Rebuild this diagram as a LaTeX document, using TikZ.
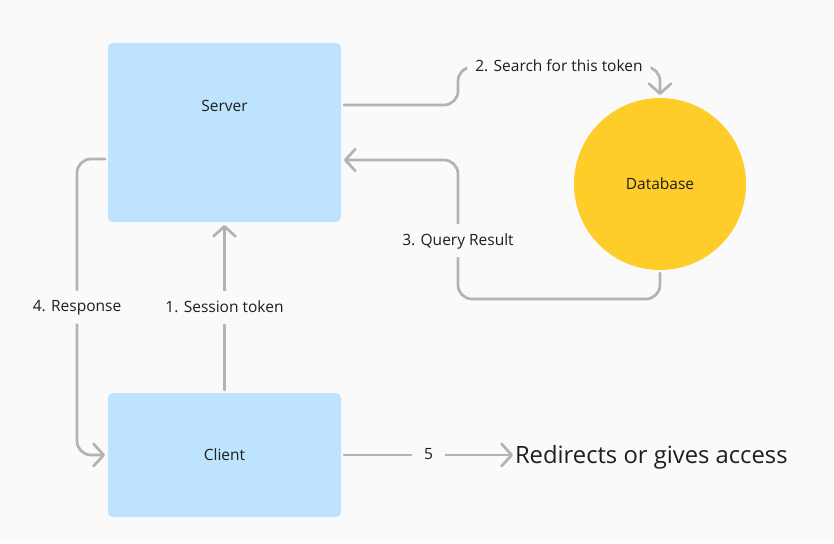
\documentclass[tikz,border=0pt]{standalone}
\usepackage{fontspec}
\setmainfont{Open Sans}
\usetikzlibrary{arrows.meta}
\definecolor{bg}{HTML}{FAFAFA}
\definecolor{boxblue}{HTML}{BDE3FE}
\definecolor{dbyellow}{HTML}{FFCD29}
\definecolor{conn}{HTML}{B3B3B3}
\definecolor{ink}{HTML}{1E1E1E}
\begin{document}
\begin{tikzpicture}[x=1pt,y=-1pt,
  box/.style={fill=boxblue,rounded corners=5pt,minimum width=233pt,inner sep=0pt,outer sep=3pt,text=ink,font=\fontsize{15.5}{18}\selectfont},
  dbnode/.style={circle,fill=dbyellow,minimum size=172pt,inner sep=0pt,outer sep=3pt,text=ink,font=\fontsize{15.5}{18}\selectfont},
  txt/.style={text=ink,font=\fontsize{15.5}{18}\selectfont,inner sep=0pt},
  conn/.style={draw=conn,line width=2.7pt,rounded corners=14pt,line cap=round,
    -{Straight Barb[length=10pt,width=22pt,line cap=round,line join=round]}},
  lbl/.style={fill=bg,text=ink,font=\fontsize{15.5}{18}\selectfont,inner xsep=8pt,inner ysep=10pt,text height=11pt,text depth=2pt}]
\fill[bg] (0,0) rectangle (834,543);
\useasboundingbox (0,0) rectangle (834,543);
% nodes
\node[box,minimum height=179pt] (server) at (224.5,132.5) {};
\node[txt] (servertxt) at (224.5,106) {Server};
\node[box,minimum height=124pt] (client) at (224.5,455) {Client};
\node[dbnode] (db) at (660,184) {Database};
\node[txt,anchor=west,font=\fontsize{23.8}{26}\selectfont,outer sep=2pt] (target) at (513,457.5) {Redirects or gives access};
\coordinate (tgtin) at (target.west |- client.east);
% connectors
\draw[conn] ([yshift=-65pt]server.north east) -- (458,105) -- (458,67)
  -- node[lbl,midway]{2. Search for this token} (db.north |- 0,67) -- (db.north);
\draw[conn] (db.south) -- (db.south |- 0,299) -- (458,299)
  -- node[lbl,pos=0.42]{3. Query Result} (458,160) -- ([yshift=-120pt]server.north east);
\draw[conn] ([yshift=-119pt]server.north west) -- (77,159)
  -- node[lbl,midway]{4. Response} (77,455) -- (client.west);
\draw[conn] (client.north) -- node[lbl,midway]{1. Session token} (server.south);
\draw[conn,rounded corners=0pt] (client.east) -- node[lbl,midway,inner xsep=12pt]{5} (tgtin);
\end{tikzpicture}
\end{document}
